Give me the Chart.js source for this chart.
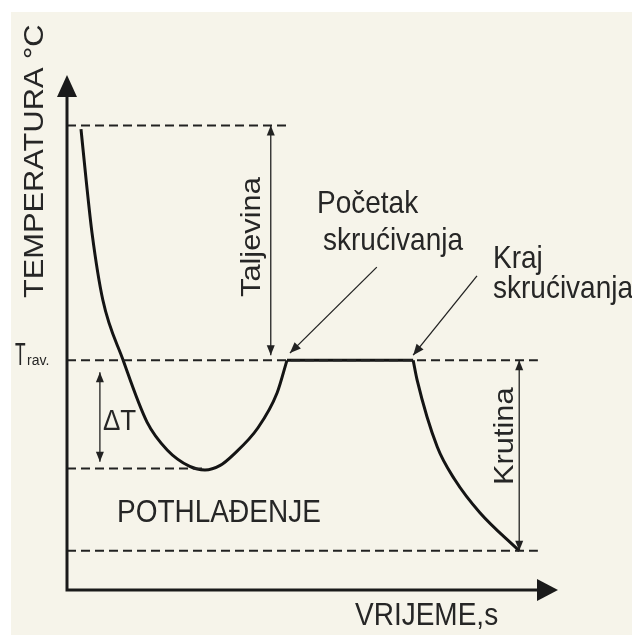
<!DOCTYPE html>
<html>
<head>
<meta charset="utf-8">
<script src="https://cdn.jsdelivr.net/npm/chart.js@4"></script>
<style>
  body { margin: 0; background: #ffffff; }
  #wrap { width: 632px; height: 636px; }
</style>
</head>
<body>
<div id="wrap"><canvas id="coolingChart"></canvas></div>
<script>
// Krivulja hlađenja (cooling curve) - time and temperature in relative units 0..100

// liquid cooling, undercooling and recalescence up to T rav.
const coolTime = [2.85, 3.9, 5.1, 7.3, 11.4, 16.3, 20.4, 25.0, 28.1, 31.2, 33.8, 38.9, 42.8, 44.8];
const coolTemp = [89.5, 79.6, 69.3, 56.3, 44.7, 32.6, 27.2, 24.0, 23.3, 24.2, 26.2, 31.5, 38.3, 44.6];

// solidification plateau
const plateauTime = [44.8, 70.5];
const plateauTemp = [44.6, 44.6];

// solid cooling
const solidTime = [70.5, 71.3, 75.4, 79.0, 84.1, 92.1];
const solidTemp = [44.6, 40.8, 27.8, 21.4, 15.0, 7.6];

// dashed reference levels: start of liquid, T rav., minimum, end
const levelTemp = [90.2, 44.6, 23.6, 7.6];
const levelEnd = [45.4, 95.9, 28.0, 95.9];

// dimension arrows [time, tempFrom, tempTo]
const dimArrows = [
    [41.5, 90.2, 45.6],  // Taljevina
    [6.7, 42.3, 24.9],   // ΔT
    [92.1, 44.6, 7.6],   // Krutina
];

// pointer arrows [timeFrom, tempFrom, timeTo, tempTo]
const pointerArrows = [
    [63.1, 62.7, 45.4, 46.0],  // Početak skrućivanja
    [83.5, 61.0, 70.5, 45.6],  // Kraj skrućivanja
];

const toPoints = (xs, ys) => xs.map((x, i) => ({ x: x, y: ys[i] }));

const FONT = "'Liberation Sans', Arial, sans-serif";
const INK = '#262626';
const STRETCH = 1.1;

const curveStyle = {
    borderColor: '#141414',
    borderWidth: 3,
    pointRadius: 0,
    fill: false,
    cubicInterpolationMode: 'monotone',
    borderJoinStyle: 'round',
    borderCapStyle: 'butt',
    clip: false,
};

const datasets = [];
levelTemp.forEach((t, i) => {
    datasets.push({
        data: [{ x: 0, y: t }, { x: levelEnd[i], y: t }],
        borderColor: '#222',
        borderWidth: 2,
        borderDash: [9, 5],
        pointRadius: 0,
        clip: false,
    });
});
datasets.push(Object.assign({ data: toPoints(coolTime, coolTemp) }, curveStyle));
datasets.push(Object.assign({ data: toPoints(plateauTime, plateauTemp) }, curveStyle));
datasets.push(Object.assign({ data: toPoints(solidTime, solidTemp) }, curveStyle));

function arrowHead(ctx, x1, y1, x2, y2, len, half) {
    const a = Math.atan2(y2 - y1, x2 - x1);
    ctx.beginPath();
    ctx.moveTo(x2, y2);
    ctx.lineTo(x2 - len * Math.cos(a) + half * Math.sin(a), y2 - len * Math.sin(a) - half * Math.cos(a));
    ctx.lineTo(x2 - len * Math.cos(a) - half * Math.sin(a), y2 - len * Math.sin(a) + half * Math.cos(a));
    ctx.closePath();
    ctx.fill();
}

function text(ctx, str, x, y, size, rotated, sx) {
    ctx.save();
    ctx.translate(x, y);
    ctx.scale(sx || 1, STRETCH);
    if (rotated) ctx.rotate(-Math.PI / 2);
    ctx.font = size + 'px ' + FONT;
    ctx.fillStyle = INK;
    ctx.textAlign = 'left';
    ctx.textBaseline = 'alphabetic';
    ctx.fillText(str, 0, 0);
    ctx.restore();
}

const backgroundPlugin = {
    id: 'paper',
    beforeDraw(chart) {
        const ctx = chart.ctx;
        ctx.save();
        ctx.fillStyle = '#ffffff';
        ctx.fillRect(0, 0, chart.width, chart.height);
        ctx.fillStyle = '#f6f4ea';
        ctx.fillRect(11, 12, chart.width - 11, chart.height - 13);
        ctx.restore();
    }
};

const diagramPlugin = {
    id: 'diagram',
    afterDatasetsDraw(chart) {
        const ctx = chart.ctx;
        const xs = chart.scales.x, ys = chart.scales.y;
        const px = v => xs.getPixelForValue(v);
        const py = v => ys.getPixelForValue(v);
        ctx.save();

        // axes with arrowheads
        const x0 = px(0), y0 = py(0);
        ctx.strokeStyle = '#1a1a1a';
        ctx.fillStyle = '#1a1a1a';
        ctx.lineWidth = 3;
        ctx.lineCap = 'square';
        ctx.beginPath();
        ctx.moveTo(x0, py(100) + 18);
        ctx.lineTo(x0, y0);
        ctx.lineTo(px(100) - 18, y0);
        ctx.stroke();
        arrowHead(ctx, x0, y0, x0, py(100), 22, 10);
        arrowHead(ctx, x0, y0, px(100), y0, 21, 11);

        // dimension and pointer arrows
        ctx.strokeStyle = '#222';
        ctx.fillStyle = '#222';
        ctx.lineWidth = 1.3;
        ctx.lineCap = 'butt';
        dimArrows.forEach(([t, a, b]) => {
            const x = px(t), ya = py(a), yb = py(b);
            ctx.beginPath();
            ctx.moveTo(x, ya);
            ctx.lineTo(x, yb);
            ctx.stroke();
            arrowHead(ctx, x, yb, x, ya, 10, 4);
            arrowHead(ctx, x, ya, x, yb, 10, 4);
        });
        pointerArrows.forEach(([t1, a1, t2, a2]) => {
            const xa = px(t1), ya = py(a1), xb = px(t2), yb = py(a2);
            ctx.beginPath();
            ctx.moveTo(xa, ya);
            ctx.lineTo(xb, yb);
            ctx.stroke();
            arrowHead(ctx, xa, ya, xb, yb, 11, 4.5);
        });

        // labels
        text(ctx, 'TEMPERATURA °C', 43, 298, 28, true);
        text(ctx, 'VRIJEME,s', 355, 625, 28, false);
        text(ctx, 'Taljevina', 260, 297, 28, true);
        text(ctx, 'Krutina', 513, 485, 28, true);
        text(ctx, 'Početak', 317, 213, 28, false);
        text(ctx, 'skrućivanja', 323, 250, 28, false);
        text(ctx, 'Kraj', 493, 268, 28, false);
        text(ctx, 'skrućivanja', 493, 298, 28, false);
        text(ctx, 'POTHLAĐENJE', 117, 522, 28, false);
        text(ctx, 'ΔT', 103, 430, 26, false);
        text(ctx, 'T', 15, 365, 28, false, 0.62);
        text(ctx, 'rav.', 27, 365, 14, false);

        ctx.restore();
    }
};

const coolingConfig = {
    type: 'line',
    data: { datasets: datasets },
    options: {
        responsive: true,
        maintainAspectRatio: false,
        animation: false,
        layout: {
            padding: { left: 67, right: 74, top: 75, bottom: 46 }
        },
        scales: {
            x: { type: 'linear', min: 0, max: 100, display: false },
            y: { type: 'linear', min: 0, max: 100, display: false }
        },
        plugins: {
            legend: { display: false },
            tooltip: { enabled: false }
        }
    },
    plugins: [backgroundPlugin, diagramPlugin]
};

const coolingChart = new Chart(
    document.getElementById('coolingChart'),
    coolingConfig
);
</script>
</body>
</html>
